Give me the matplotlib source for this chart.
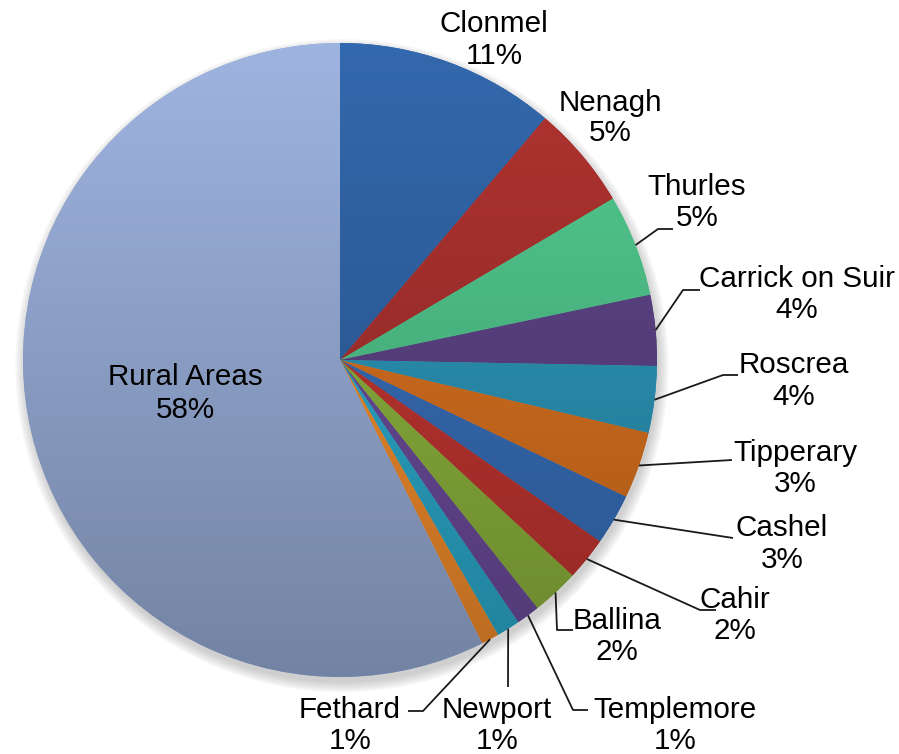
import matplotlib.pyplot as plt
import numpy as np
from matplotlib.colors import to_rgb
from matplotlib.patches import Circle

# Data
towns = ['Clonmel', 'Nenagh', 'Thurles', 'Carrick on Suir', 'Roscrea', 'Tipperary',
         'Cashel', 'Cahir', 'Ballina', 'Templemore', 'Newport', 'Fethard', 'Rural Areas']
shares = [11.2, 5.3, 5.2, 3.6, 3.4, 3.4, 2.6, 2.2, 2.4, 1.2, 1.2, 0.9, 57.4]
pct_labels = ['11%', '5%', '5%', '4%', '4%', '3%', '3%', '2%', '2%', '1%', '1%', '1%', '58%']
colors = ['#2E5F9E', '#A12F2C', '#4CBA84', '#58407F', '#2A8EAE', '#CE6C1E',
          '#3569B0', '#B7332F', '#86AA3A', '#664893', '#2AA2C2', '#E8862A', '#90A4CC']

# pie geometry in pixels
W, H = 899, 754
CX, CY, R = 340, 360, 317


def px(x, y):
    return (x - CX) / R, (CY - y) / R


fig = plt.figure(figsize=(W / 100, H / 100), dpi=100)
ax = fig.add_axes([0, 0, 1, 1])
plt.rcParams['font.family'] = ['Liberation Sans', 'DejaVu Sans']

# soft shadow
for k in range(6):
    ax.add_patch(Circle((0.006, -0.018), 1.0 + 0.006 * k, color='#808080',
                        alpha=0.07, lw=0, zorder=0))

wedges, _ = ax.pie(shares, colors=colors, startangle=90, counterclock=False,
                   wedgeprops=dict(linewidth=0))

# vertical gradient in each wedge
n = 256
t = np.linspace(0, 1, n)[:, None]
for w, c in zip(wedges, colors):
    base = np.array(to_rgb(c))
    top = np.clip(base * 1.10, 0, 1)
    bot = base * 0.80
    img = top[None, None, :] * (1 - t[:, :, None]) + bot[None, None, :] * t[:, :, None]
    img = np.repeat(img, 2, axis=1)
    im = ax.imshow(img, extent=(-1, 1, -1, 1), origin='upper', zorder=2,
                   interpolation='bilinear')
    im.set_clip_path(w)

# label positions (pixels): name y, pct y
label_pos = {
    'Clonmel': (494, 24, 56),
    'Nenagh': (610, 103, 133),
    'Thurles': (697, 187, 218),
    'Carrick on Suir': (797, 279, 310),
    'Roscrea': (794, 365, 397),
    'Tipperary': (795, 453, 484),
    'Cashel': (782, 528, 560),
    'Cahir': (735, 600, 631),
    'Ballina': (617, 621, 652),
    'Templemore': (675, 710, 741),
    'Newport': (497, 710, 741),
    'Fethard': (350, 710, 741),
    'Rural Areas': (185, 377, 410),
}
# leader line elbow / end points (pixels)
leaders = {
    'Thurles': [(658, 229), (673, 229)],
    'Carrick on Suir': [(683, 290), (700, 290)],
    'Roscrea': [(723, 375), (738, 375)],
    'Tipperary': [(732, 460)],
    'Cashel': [(733, 538)],
    'Cahir': [(700, 610), (716, 610)],
    'Ballina': [(557, 630), (573, 630)],
    'Templemore': [(573, 710), (588, 710)],
    'Newport': [(508, 687)],
    'Fethard': [(423, 711), (408, 711)],
}

fs = 21.3
for w, name, pct in zip(wedges, towns, pct_labels):
    x, y1, y2 = label_pos[name]
    ax.text(*px(x, y1), name, ha='center', va='center', fontsize=fs, zorder=5)
    ax.text(*px(x, y2), pct, ha='center', va='center', fontsize=fs, zorder=5)
    if name in leaders:
        mid = np.deg2rad((w.theta1 + w.theta2) / 2)
        pts = [(np.cos(mid), np.sin(mid))] + [px(*p) for p in leaders[name]]
        xs, ys = zip(*pts)
        ax.plot(xs, ys, color='#1a1a1a', lw=1.3, zorder=4, solid_capstyle='butt')

ax.set_xlim(-CX / R, (W - CX) / R)
ax.set_ylim((CY - H) / R, CY / R)
ax.set_aspect('auto')
ax.axis('off')

plt.savefig('out.png', dpi=100)
